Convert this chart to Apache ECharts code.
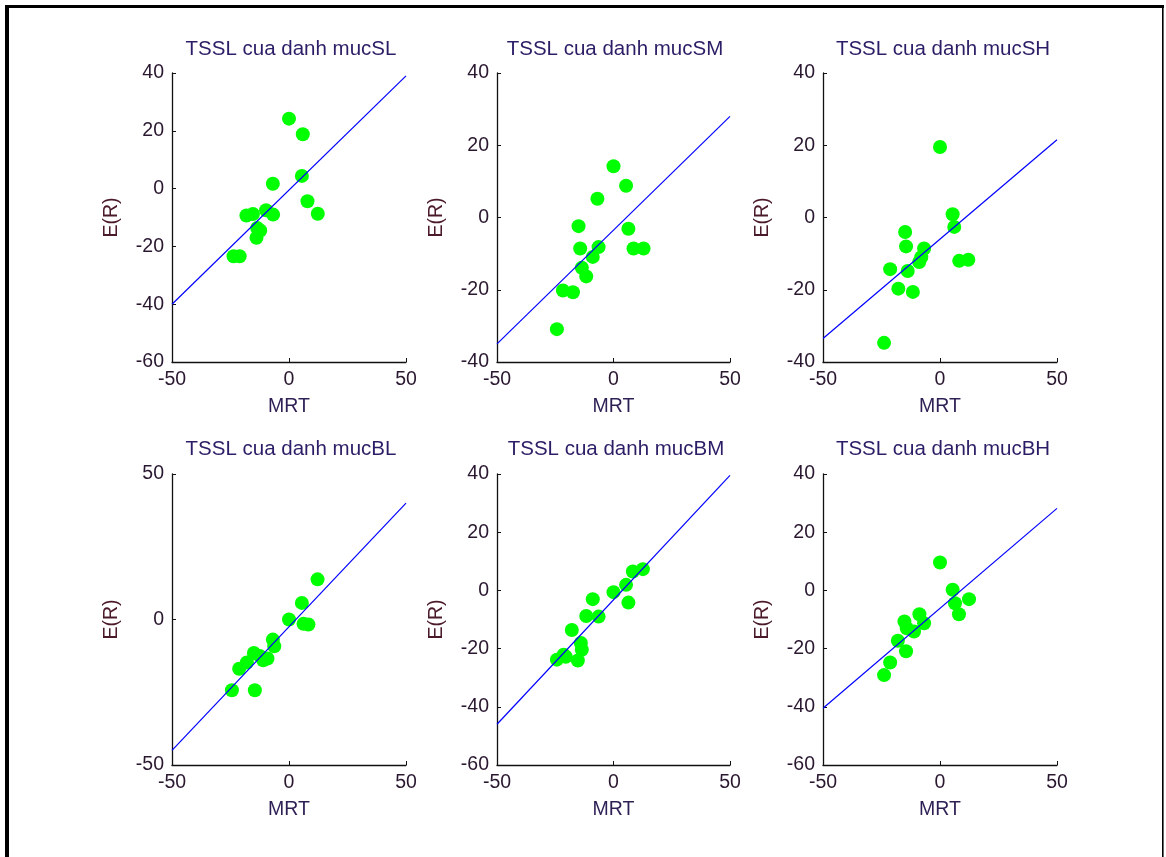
<!DOCTYPE html>
<html>
<head>
<meta charset="utf-8">
<script src="https://cdn.jsdelivr.net/npm/echarts@6/dist/echarts.min.js"></script>
<style>
html,body{margin:0;padding:0;background:#fff;}
#c{width:1166px;height:857px;}
</style>
</head>
<body>
<div id="c"></div>
<script>
// ---- data ----
const titles = ['TSSL cua danh mucSL','TSSL cua danh mucSM','TSSL cua danh mucSH','TSSL cua danh mucBL','TSSL cua danh mucBM','TSSL cua danh mucBH'];
const xTicks = {min:-50, max:50, interval:50};
const yMin = [-60, -40, -40, -50, -60, -60];
const yMax = [40, 40, 40, 50, 40, 40];
const yInterval = [20, 20, 20, 50, 20, 20];
const xName = 'MRT';
const yName = 'E(R)';

const ptsSL = [[0,24.2],[5.9,18.8],[5.5,4.4],[-6.9,1.7],[7.9,-4.4],[12.3,-8.7],[-9.8,-7.5],[-6.8,-9.0],[-18.2,-9.3],[-15.4,-8.8],[-13.6,-13.6],[-12.3,-14.5],[-13.9,-17.0],[-23.7,-23.4],[-21.1,-23.4]];
const ptsSM = [[0,14.2],[5.4,8.8],[-6.9,5.2],[-15,-2.4],[6.4,-3.1],[-14.3,-8.6],[-6.4,-8.2],[-8.9,-10.9],[8.6,-8.6],[12.9,-8.6],[-13.6,-13.9],[-11.7,-16.3],[-21.7,-20.2],[-17.4,-20.7],[-24.3,-30.9]];
const ptsSH = [[0,19.5],[5.4,0.9],[6.1,-2.6],[-14.9,-4.0],[-14.5,-8.0],[-6.8,-8.6],[-8.9,-12.3],[-8.0,-11.0],[8.2,-12.0],[12.1,-11.7],[-21.3,-14.3],[-13.8,-14.8],[-17.8,-19.7],[-11.6,-20.6],[-23.9,-34.7]];
const ptsBL = [[12.2,13.8],[5.5,5.7],[0,0],[6.2,-1.5],[8.3,-1.7],[-6.9,-6.9],[-6.3,-9.2],[-15.0,-11.5],[-12.5,-12.5],[-11,-14],[-9.2,-13.4],[-18,-14.8],[-21.3,-16.9],[-24.4,-24.3],[-14.6,-24.3]];
const ptsBM = [[12.6,7.3],[8.3,6.5],[5.4,1.9],[0,-0.6],[6.4,-4.2],[-8.9,-3.0],[-11.7,-8.8],[-6.4,-9.0],[-17.9,-13.6],[-14,-18.1],[-13.6,-20.4],[-15.3,-24.1],[-21.4,-22.1],[-20.5,-22.8],[-24.3,-23.8]];
const ptsBH = [[0,9.6],[5.4,0.2],[6.4,-4.4],[12.4,-3.0],[8.1,-8.2],[-8.8,-8.2],[-6.8,-11.3],[-15.2,-10.7],[-14.2,-13.0],[-11.1,-14.1],[-18.0,-17.3],[-14.5,-20.9],[-21.3,-24.8],[-23.9,-29.1]];
const points = [ptsSL, ptsSM, ptsSH, ptsBL, ptsBM, ptsBH];

// regression line values at x = -50 and x = 50
const lineSL = [-40, 39];
const lineSM = [-35, 28];
const lineSH = [-33.5, 21.5];
const lineBL = [-45, 40];
const lineBM = [-46, 39.5];
const lineBH = [-40.5, 28.2];
const lines = [lineSL, lineSM, lineSH, lineBL, lineBM, lineBH];

// ---- layout ----
const gridBoxes = [
  {left:172, top:73, width:234, height:289},
  {left:497, top:73, width:233, height:289},
  {left:823, top:73, width:234, height:289},
  {left:172, top:474, width:234, height:291},
  {left:497, top:474, width:233, height:291},
  {left:823, top:474, width:234, height:291}
];
const titleCenters = [286, 610, 938, 286, 611, 938];
const titleTops = [34, 34, 34, 434, 434, 434];

const FONT = '"Liberation Sans", Arial, sans-serif';
const tickColor = '#2a1830';
const titleColor = '#2c1d66';
const nameColorX = '#2e1f55';
const nameColorY = '#4a1a2a';

const option = {
  backgroundColor: '#ffffff',
  animation: false,
  title: titles.map((t, i) => ({
    text: t, left: titleCenters[i], top: titleTops[i], textAlign: 'center',
    textStyle: {fontFamily: FONT, fontSize: 20.5, fontWeight: 'normal', color: titleColor}
  })),
  grid: gridBoxes.map(g => Object.assign({containLabel:false}, g)),
  xAxis: gridBoxes.map((g, i) => ({
    type: 'value', gridIndex: i, min: xTicks.min, max: xTicks.max, interval: xTicks.interval,
    name: xName, nameLocation: 'middle', nameGap: 35,
    nameTextStyle: {fontFamily: FONT, fontSize: 19.5, color: nameColorX},
    axisLine: {show: true, onZero: false, lineStyle: {color: '#111', width: 1.3}},
    axisTick: {show: true, inside: true, length: 4, lineStyle: {color: '#111'}},
    axisLabel: {fontFamily: FONT, fontSize: 19.5, color: tickColor, margin: 8},
    splitLine: {show: false}
  })),
  yAxis: gridBoxes.map((g, i) => ({
    type: 'value', gridIndex: i, min: yMin[i], max: yMax[i], interval: yInterval[i],
    name: yName, nameLocation: 'middle', nameGap: 50,
    nameTextStyle: {fontFamily: FONT, fontSize: 19.5, color: nameColorY},
    axisLine: {show: true, onZero: false, lineStyle: {color: '#111', width: 1.3}},
    axisTick: {show: true, inside: true, length: 4, lineStyle: {color: '#111'}},
    axisLabel: {fontFamily: FONT, fontSize: 19.5, color: tickColor, margin: 8},
    splitLine: {show: false}
  })),
  series: [],
  graphic: [
    {type:'rect', shape:{x:5, y:5, width:1159, height:3}, style:{fill:'#000'}, z:100},
    {type:'rect', shape:{x:5, y:5, width:4, height:852}, style:{fill:'#000'}, z:100},
    {type:'rect', shape:{x:1162, y:5, width:1.6, height:852}, style:{fill:'#000'}, z:100}
  ]
};

points.forEach((p, i) => {
  option.series.push({
    type: 'scatter', xAxisIndex: i, yAxisIndex: i, data: p,
    symbol: 'circle', symbolSize: 14,
    itemStyle: {color: '#00ff00', opacity: 1}, z: 2
  });
  option.series.push({
    type: 'line', xAxisIndex: i, yAxisIndex: i,
    data: [[xTicks.min, lines[i][0]], [xTicks.max, lines[i][1]]],
    symbol: 'none', lineStyle: {color: '#0000ff', width: 1.2}, z: 3
  });
});

const chart = echarts.init(document.getElementById('c'), null, {renderer: 'canvas'});
chart.setOption(option);
</script>
</body>
</html>
